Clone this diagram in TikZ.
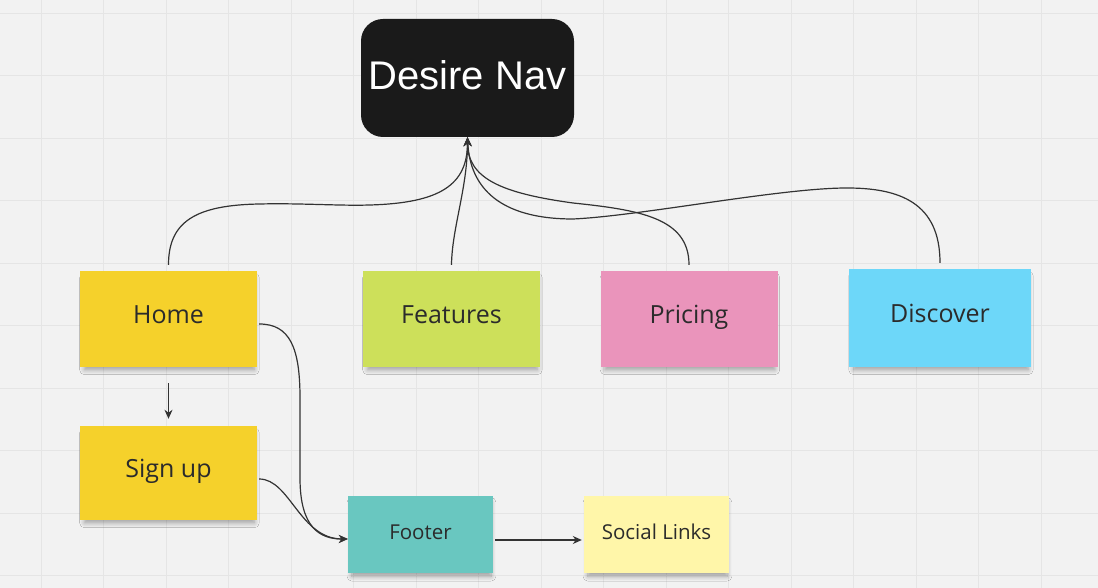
\documentclass[tikz,border=0pt]{standalone}
\usepackage{fontspec}
\setmainfont{Open Sans}
\newfontfamily\navfont{Liberation Sans}
\usetikzlibrary{arrows.meta,shadows.blur}
\definecolor{canvas}{HTML}{F2F2F2}
\definecolor{gridline}{HTML}{E5E5E5}
\definecolor{navblack}{HTML}{1A1A1A}
\definecolor{ink}{HTML}{2B2B2B}
\definecolor{wire}{HTML}{333333}
\definecolor{sunny}{HTML}{F5D12B}
\definecolor{lime}{HTML}{CDE05A}
\definecolor{rose}{HTML}{EA94BB}
\definecolor{sky}{HTML}{6DD7F9}
\definecolor{teal}{HTML}{69C7C0}
\definecolor{cream}{HTML}{FFF6A9}

\begin{document}
\begin{tikzpicture}[
  x=1pt, y=1pt, >={Stealth[length=9pt,width=8pt]},
  note/.style={inner sep=0pt, minimum width=177pt, minimum height=96pt, text=ink,
    font=\fontsize{25}{30}\selectfont, text height=18pt, text depth=8pt,
    blur shadow={shadow xshift=1pt, shadow yshift=-5pt, shadow scale=0.96, shadow opacity=35, shadow blur radius=5pt, shadow blur steps=8}},
  smallnote/.style={note, minimum width=145pt, minimum height=77pt,
    font=\fontsize{20.5}{24}\selectfont, text height=14.6pt, text depth=3.6pt},
  link/.style={draw=wire, line width=1.2pt}]
% ---- canvas and grid
\useasboundingbox (0,0) rectangle (1098,588);
\fill[canvas] (0,0) rectangle (1098,588);
\foreach \x in {41,103.5,...,1098} \draw[gridline, line width=0.8pt] (\x,0) -- (\x,588);
\foreach \y in {12.5,75,...,588} \draw[gridline, line width=0.8pt] (0,\y) -- (1098,\y);
% ---- nodes
\node[fill=navblack, rounded corners=22pt, minimum width=213pt, minimum height=118pt,
  text=white, font=\navfont\fontsize{40}{48}\selectfont, text height=28.6pt, text depth=4.6pt]
  (nav) at (467.5,510) {Desire Nav};
\node[note, fill=sunny] (home) at (168.5,269) {Home};
\node[note, fill=lime] (features) at (451.5,269) {Features};
\node[note, fill=rose] (pricing) at (689,269) {Pricing};
\node[note, fill=sky, minimum width=182pt, minimum height=98pt] (discover) at (940,270) {Discover};
\node[note, fill=sunny, minimum height=94pt] (signup) at (168.5,115) {Sign up};
\node[smallnote, fill=teal] (footer) at (420.5,53.5) {Footer};
\node[smallnote, fill=cream] (social) at (656.5,53.5) {Social Links};
% ---- links up to the nav
\draw[link, ->] ([yshift=6pt]home.north) .. controls (168.5,366) and (195,383) .. (260,384)
  .. controls (300,385) and (340,382) .. (370,383)
  .. controls (440,385) and (467.5,403) .. (nav.south);
\draw[link, ->] ([yshift=6pt]features.north) .. controls (452,360) and (467.5,400) .. (nav.south);
\draw[link, ->] ([yshift=6pt]pricing.north) .. controls (689,370) and (640,378) .. (573,385)
  .. controls (500,395) and (467.5,410) .. (nav.south);
\draw[link, ->] ([yshift=6pt]discover.north) .. controls (940,385) and (900,400) .. (847,400)
  .. controls (780,400) and (640,372) .. (573,369)
  .. controls (500,369) and (470,400) .. (nav.south);
% ---- links down to the footer
\draw[link, ->, shorten <=16pt, shorten >=7pt] (home.south) -- (signup.north);
\draw[link, ->] ([xshift=2pt,yshift=-5pt]home.east) .. controls (290,264) and (300,240) .. (300,190)
  -- (300,110) .. controls (300,60) and (320,49) .. ([yshift=-4.5pt]footer.west);
\draw[link, ->] ([xshift=2pt,yshift=-6pt]signup.east) .. controls (290,109) and (300,49) .. ([yshift=-4.5pt]footer.west);
\draw[link, ->, shorten <=2pt, shorten >=2pt] ([yshift=-5.5pt]footer.east) -- ([yshift=-5.5pt]social.west);
\end{tikzpicture}
\end{document}
